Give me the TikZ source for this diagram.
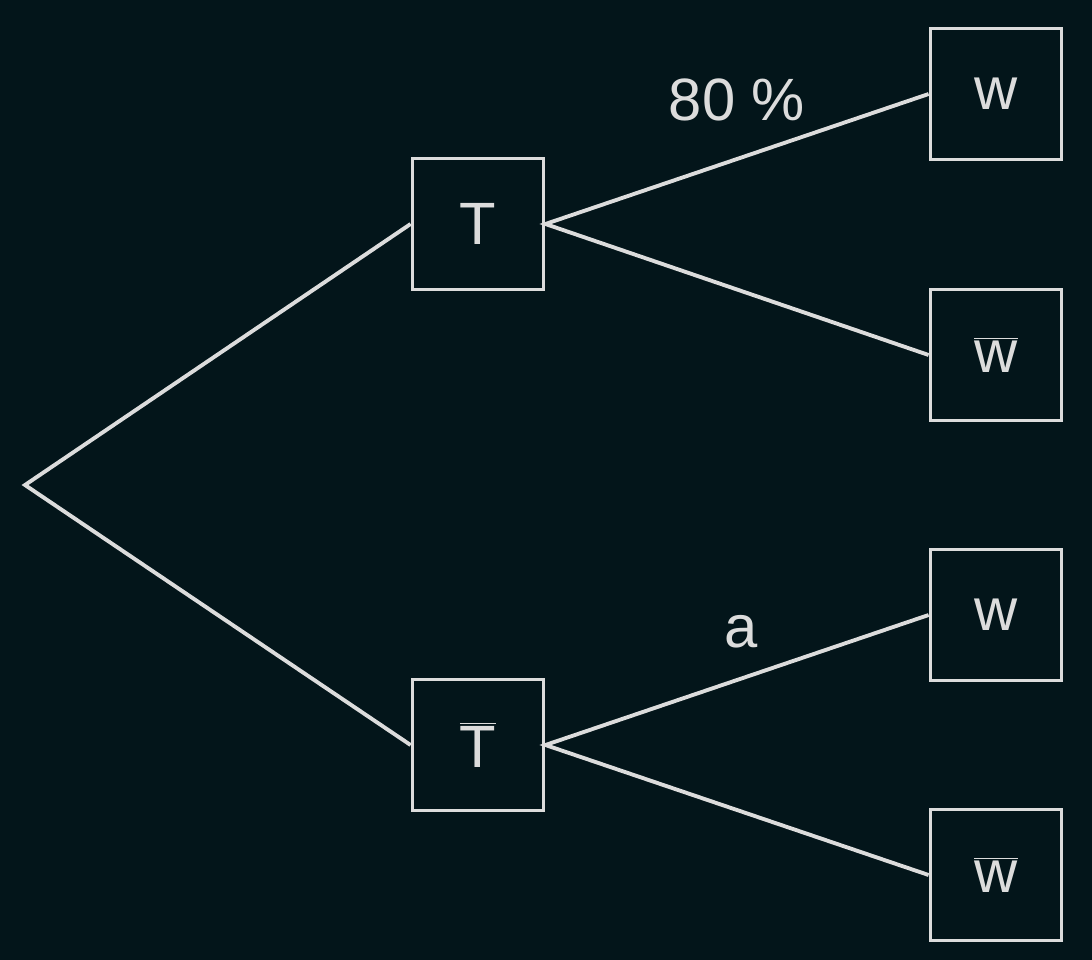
\documentclass[tikz,border=0pt]{standalone}
\usepackage{fontspec}
\setmainfont{Liberation Sans}
\definecolor{bg}{HTML}{03151A}
\definecolor{fg}{HTML}{DCDCDC}
\begin{document}
\begin{tikzpicture}[x=0.02cm,y=-0.02cm,
  box/.style={draw=fg,line width=2.2pt,minimum size=2.62cm,inner sep=0pt,text=fg,font=\fontsize{34}{40}\selectfont},
  edge/.style={draw=fg,line width=2.2pt},
  lab/.style={text=fg,font=\fontsize{34}{40}\selectfont}]
\fill[bg] (0,0) rectangle (1092,960);
\useasboundingbox (0,0) rectangle (1092,960);
\coordinate (r) at (25,485);
\node[box] (t) at (478,224) {T};
\node[box] (tb) at (478,745) {$\overline{\mbox{T}}$};
\node[box] (w1) at (996,94) {w};
\node[box] (w1b) at (996,355) {$\overline{\mbox{w}}$};
\node[box] (w2) at (996,615) {w};
\node[box] (w2b) at (996,875) {$\overline{\mbox{w}}$};
\draw[edge] (t.west) -- (r) -- (tb.west);
\draw[edge] (w1.west) -- (t.east) -- (w1b.west);
\draw[edge] (w2.west) -- (tb.east) -- (w2b.west);
\node[lab] (p) at (737,100) {80 \%};
\node[lab] (a) at (741,632) {a};
\end{tikzpicture}
\end{document}
